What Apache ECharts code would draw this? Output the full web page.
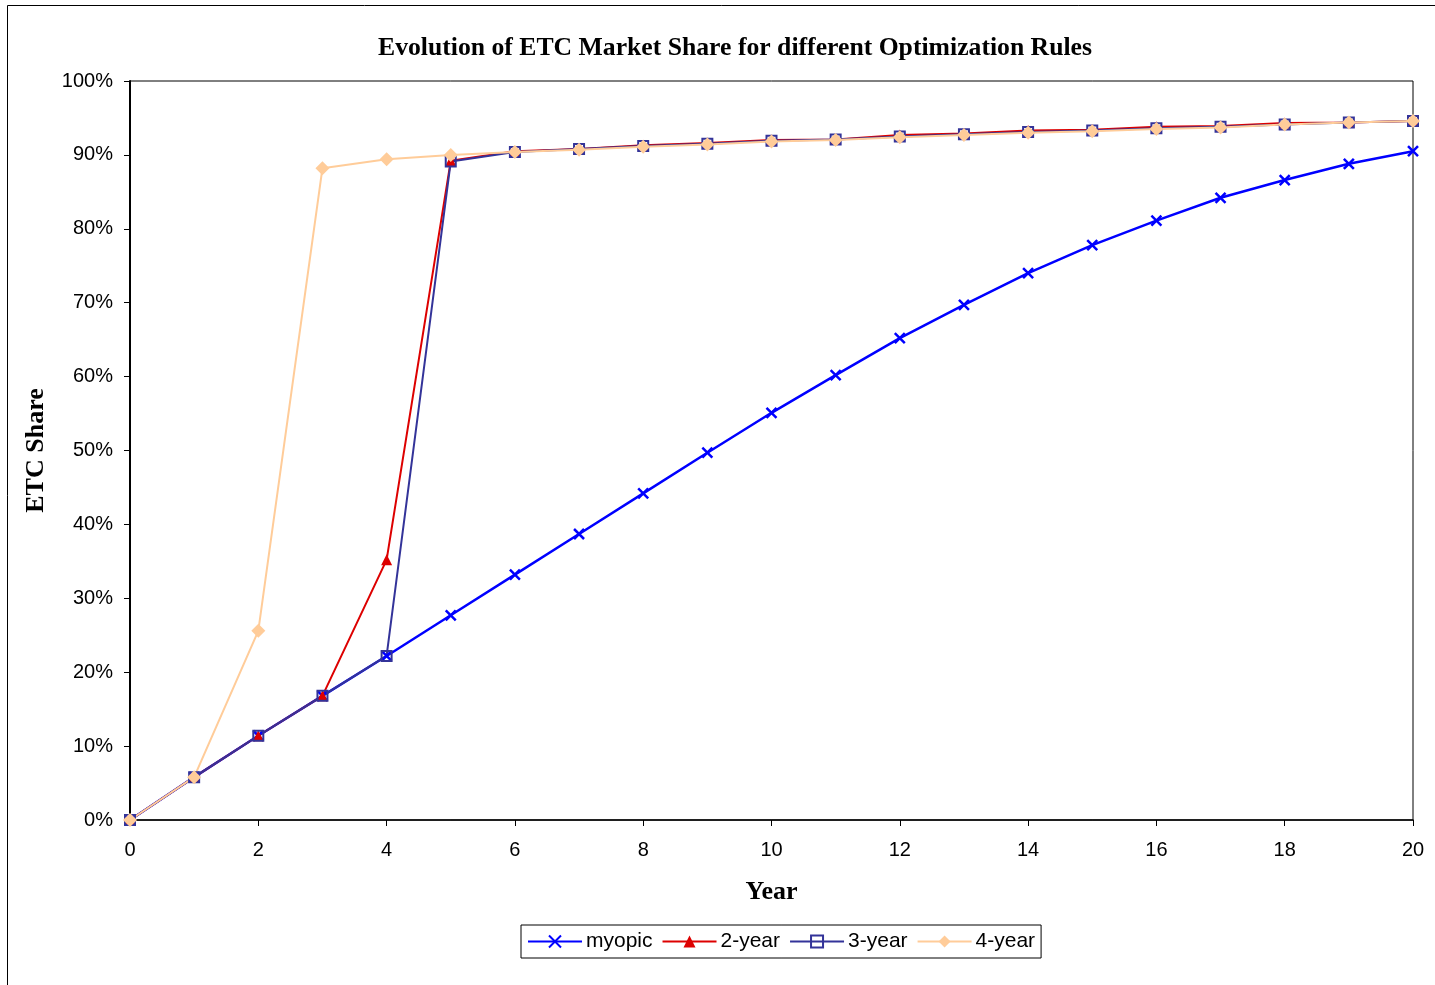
<!DOCTYPE html>
<html>
<head>
<meta charset="utf-8">
<script src="https://cdn.jsdelivr.net/npm/echarts@6/dist/echarts.min.js"></script>
<style>
html, body { margin: 0; padding: 0; background: #fff; }
#chart { width: 1435px; height: 985px; }
</style>
</head>
<body>
<div id="chart"></div>
<script>
// years 0..20
const years = [0, 1, 2, 3, 4, 5, 6, 7, 8, 9, 10, 11, 12, 13, 14, 15, 16, 17, 18, 19, 20];
const myopic = [0, 5.8, 11.4, 16.8, 22.2, 27.7, 33.2, 38.7, 44.2, 49.7, 55.1, 60.2, 65.2, 69.7, 74.0, 77.8, 81.1, 84.2, 86.6, 88.8, 90.5];
const twoYear = [0, 5.8, 11.4, 16.8, 35.2, 89.2, 90.5, 90.8, 91.3, 91.6, 92.0, 92.1, 92.7, 92.9, 93.3, 93.4, 93.8, 93.9, 94.3, 94.4, 94.6];
const threeYear = [0, 5.8, 11.4, 16.8, 22.2, 89.1, 90.4, 90.8, 91.2, 91.5, 91.9, 92.1, 92.5, 92.8, 93.1, 93.3, 93.6, 93.8, 94.1, 94.4, 94.6];
const fourYear = [0, 5.8, 25.6, 88.2, 89.4, 90.0, 90.4, 90.7, 91.1, 91.4, 91.8, 92.0, 92.4, 92.7, 93.0, 93.2, 93.5, 93.7, 94.1, 94.4, 94.6];

const serifFont = '"Liberation Serif", "DejaVu Serif", serif';
const sansFont = '"Liberation Sans", Arial, sans-serif';

function pairs(vals) {
    return years.map((y, i) => [y, vals[i]]);
}

const chart = echarts.init(document.getElementById('chart'));
chart.setOption({
    animation: false,
    backgroundColor: '#fff',
    graphic: [{
        type: 'rect',
        shape: { x: 7.5, y: 5.5, width: 1440, height: 990 },
        style: { fill: 'none', stroke: '#000', lineWidth: 1 },
        silent: true
    }],
    title: {
        text: 'Evolution of ETC Market Share for different Optimization Rules',
        left: 730,
        top: 30,
        textAlign: 'center',
        textStyle: { fontFamily: serifFont, fontWeight: 'bold', fontSize: 25.7, color: '#000' }
    },
    grid: {
        left: 130, right: 22, top: 81, bottom: 165,
        show: true, borderColor: '#000', borderWidth: 1
    },
    legend: {
        left: 521, top: 925,
        padding: [6, 6],
        borderColor: '#000', borderWidth: 1,
        itemWidth: 54, itemHeight: 15, itemGap: 9,
        textStyle: { fontFamily: sansFont, fontSize: 21, color: '#000', padding: [0, 0, 0, -1] },
        data: ['myopic', '2-year', '3-year', '4-year']
    },
    xAxis: {
        type: 'value',
        min: 0, max: 20, interval: 2,
        name: 'Year',
        nameLocation: 'middle',
        nameGap: 59,
        nameTextStyle: { fontFamily: serifFont, fontWeight: 'bold', fontSize: 26, color: '#000' },
        axisLine: { lineStyle: { color: '#000', width: 1.5 } },
        axisTick: { length: 6, lineStyle: { color: '#000' } },
        axisLabel: { fontFamily: sansFont, fontSize: 20, color: '#000', margin: 20 },
        splitLine: { show: false }
    },
    yAxis: {
        type: 'value',
        min: 0, max: 100, interval: 10,
        name: 'ETC Share',
        nameLocation: 'middle',
        nameGap: 81,
        nameTextStyle: { fontFamily: serifFont, fontWeight: 'bold', fontSize: 26, color: '#000' },
        axisLine: { show: true, lineStyle: { color: '#000', width: 2 } },
        axisTick: { show: true, length: 6, lineStyle: { color: '#000' } },
        axisLabel: { fontFamily: sansFont, fontSize: 20, color: '#000', margin: 17, formatter: '{value}%' },
        splitLine: { show: false }
    },
    series: [
        {
            name: 'myopic', type: 'line', data: pairs(myopic),
            symbol: 'path://M0,0L10,10M10,0L0,10', symbolSize: 10,
            lineStyle: { color: '#0000FF', width: 2.5 },
            itemStyle: { color: '#0000FF', borderColor: '#0000FF', borderWidth: 2.5 }
        },
        {
            name: '2-year', type: 'line', data: pairs(twoYear),
            symbol: 'triangle', symbolSize: 11,
            lineStyle: { color: '#DD0000', width: 2 },
            itemStyle: { color: '#DD0000', borderWidth: 0 }
        },
        {
            name: '3-year', type: 'line', data: pairs(threeYear),
            symbol: 'rect', symbolSize: 10,
            lineStyle: { color: '#333399', width: 2 },
            itemStyle: { color: 'rgba(255,255,255,0)', borderColor: '#333399', borderWidth: 2 }
        },
        {
            name: '4-year', type: 'line', data: pairs(fourYear),
            symbol: 'diamond', symbolSize: 14,
            lineStyle: { color: '#FFCC99', width: 2 },
            itemStyle: { color: '#FFCC99', borderWidth: 0 }
        }
    ]
});
</script>
</body>
</html>
